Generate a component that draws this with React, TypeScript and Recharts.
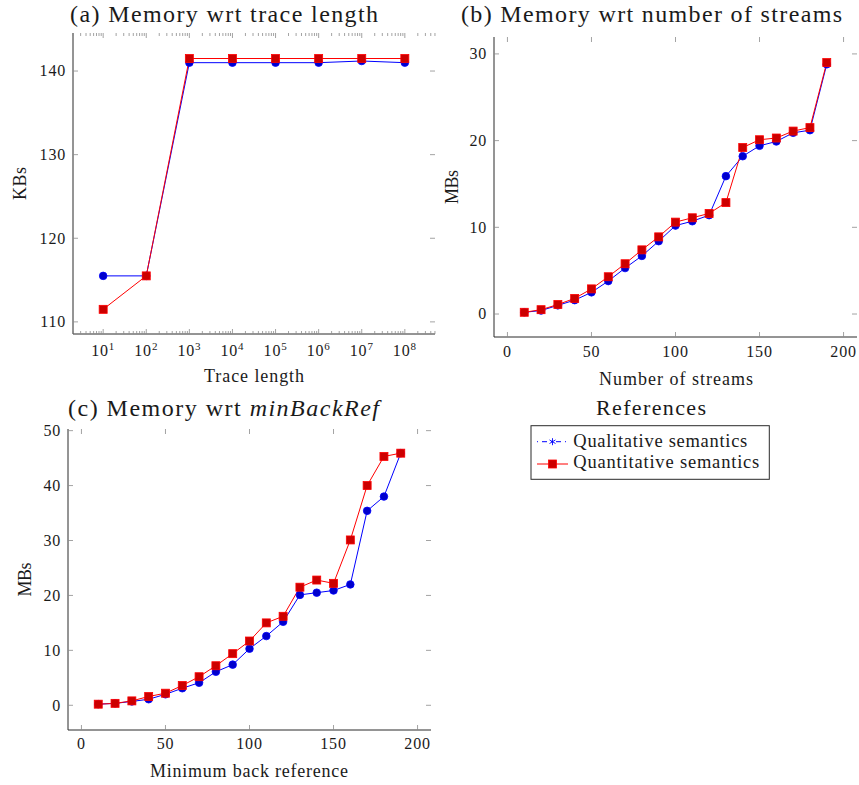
import React from 'react';
import { LineChart, Line, XAxis, YAxis } from 'recharts';

// values
const traceLengths = [1e1, 1e2, 1e3, 1e4, 1e5, 1e6, 1e7, 1e8];
const traceQualitative = [115.5, 115.5, 141.0, 141.0, 141.0, 141.0, 141.2, 141.0];
const traceQuantitative = [111.5, 115.5, 141.5, 141.5, 141.5, 141.5, 141.5, 141.5];

const streamCounts = [10, 20, 30, 40, 50, 60, 70, 80, 90, 100, 110, 120, 130, 140, 150, 160, 170, 180, 190];
const streamsQualitative = [0.2, 0.4, 1.0, 1.6, 2.5, 3.8, 5.3, 6.7, 8.4, 10.2, 10.7, 11.4, 15.9, 18.2, 19.4, 19.9, 20.9, 21.2, 28.8];
const streamsQuantitative = [0.2, 0.5, 1.1, 1.8, 2.9, 4.3, 5.8, 7.4, 8.9, 10.6, 11.1, 11.6, 12.85, 19.2, 20.1, 20.3, 21.1, 21.5, 29.0];

const backRefs = [10, 20, 30, 40, 50, 60, 70, 80, 90, 100, 110, 120, 130, 140, 150, 160, 170, 180, 190];
const backRefQualitative = [0.2, 0.35, 0.7, 1.1, 2.0, 3.1, 4.1, 6.1, 7.4, 10.3, 12.6, 15.2, 20.1, 20.5, 20.9, 22.0, 35.4, 38.0, 45.9];
const backRefQuantitative = [0.2, 0.35, 0.8, 1.6, 2.2, 3.6, 5.2, 7.2, 9.4, 11.7, 15.0, 16.2, 21.5, 22.8, 22.2, 30.1, 40.0, 45.3, 45.9];

const traceXTicks = [1, 2, 3, 4, 5, 6, 7, 8];
const traceYTicks = [110, 120, 130, 140];
const linearXTicks = [0, 50, 100, 150, 200];
const streamsYTicks = [0, 10, 20, 30];
const backRefYTicks = [0, 10, 20, 30, 40, 50];

const SERIF: React.CSSProperties = { fontFamily: 'Liberation Serif' };
const TEXT = '#1a1a1a';
const AXIS = '#2a2a2a';
const TICK = '#8c8c8c';
const BLUE = '#0000ff';
const RED = '#ff0000';
const TICK_FONT = 16;

const toRows = (xs: number[], a: number[], b: number[]) =>
  xs.map((x, i) => ({ x, qual: a[i], quant: b[i] }));

// minor + major ticks of the log axis, only those inside the domain
const logTicks = (lo: number, hi: number) => {
  const out: number[] = [];
  for (let k = 0; k <= 9; k++) {
    for (let m = 1; m <= 9; m++) {
      const v = m * Math.pow(10, k);
      if (v >= lo && v <= hi) out.push(v);
    }
  }
  return out;
};

const isPow10 = (v: number) => {
  const l = Math.log10(v);
  return Math.abs(l - Math.round(l)) < 1e-9;
};

const circleDot = (p: any) =>
  p.cx == null ? <g key={p.index} /> : (
    <circle key={p.index} cx={p.cx} cy={p.cy} r={3.8} fill="#0000cc" stroke={BLUE} strokeWidth={0.8} />
  );

const squareDot = (p: any) =>
  p.cx == null ? <g key={p.index} /> : (
    <rect key={p.index} x={p.cx - 4} y={p.cy - 4} width={8} height={8} fill="#cc0000" stroke={RED} strokeWidth={0.8} />
  );

interface PanelProps {
  left: number;
  top: number;
  width: number;
  height: number;
  yAxisWidth: number;
  xAxisHeight: number;
  marginTop: number;
  marginRight: number;
  data: Array<{ x: number; qual: number; quant: number }>;
  xDomain: [number, number];
  yDomain: [number, number];
  xTicks: number[];
  yTicks: number[];
  logX?: boolean;
  labelOffset: number;
}

const Panel: React.FC<PanelProps> = (props) => {
  const {
    left, top, width, height, yAxisWidth, xAxisHeight, marginTop, marginRight,
    data, xDomain, yDomain, xTicks, yTicks, logX, labelOffset,
  } = props;
  const plotW = width - yAxisWidth - marginRight;
  const plotH = height - marginTop - xAxisHeight;

  const xTick = (t: any) => {
    const { x, y, payload } = t;
    const v = payload.value;
    const major = !logX || isPow10(v);
    const len = major ? 5 : 3;
    return (
      <g>
        <line x1={x} x2={x} y1={y} y2={y - len} stroke={TICK} strokeWidth={0.8} />
        <line x1={x} x2={x} y1={y - plotH} y2={y - plotH + len} stroke={TICK} strokeWidth={0.8} />
        {major && (
          logX ? (
            <text x={x} y={y + labelOffset} textAnchor="middle" style={SERIF} fontSize={TICK_FONT} fill={TEXT} letterSpacing={0.8}>
              <tspan>10</tspan>
              <tspan dy={-6} fontSize={11}>{Math.round(Math.log10(v))}</tspan>
            </text>
          ) : (
            <text x={x} y={y + labelOffset} textAnchor="middle" style={SERIF} fontSize={TICK_FONT} fill={TEXT} letterSpacing={0.8}>
              {v}
            </text>
          )
        )}
      </g>
    );
  };

  const yTick = (t: any) => {
    const { x, y, payload } = t;
    return (
      <g>
        <line x1={x} x2={x + 5} y1={y} y2={y} stroke={TICK} strokeWidth={0.8} />
        <line x1={x + plotW} x2={x + plotW - 5} y1={y} y2={y} stroke={TICK} strokeWidth={0.8} />
        <text x={x - 7} y={y} dy="0.34em" textAnchor="end" style={SERIF} fontSize={TICK_FONT} fill={TEXT} letterSpacing={0.8}>
          {payload.value}
        </text>
      </g>
    );
  };

  const ticksX = logX ? logTicks(xDomain[0], xDomain[1]) : xTicks;

  return (
    <div style={{ position: 'absolute', left, top, width, height }}>
      <LineChart
        width={width}
        height={height}
        data={data}
        margin={{ top: marginTop, right: marginRight, left: 0, bottom: 0 }}
      >
        <XAxis
          dataKey="x"
          type="number"
          scale={logX ? 'log' : 'linear'}
          domain={xDomain}
          allowDataOverflow
          ticks={ticksX}
          interval={0}
          tickSize={0}
          tickMargin={0}
          tickLine={false}
          tick={xTick}
          height={xAxisHeight}
          axisLine={{ stroke: AXIS, strokeWidth: 1 }}
        />
        <XAxis
          xAxisId="top"
          orientation="top"
          dataKey="x"
          type="number"
          scale={logX ? 'log' : 'linear'}
          domain={xDomain}
          allowDataOverflow
          height={0}
          tick={false}
          tickLine={false}
          axisLine={{ stroke: AXIS, strokeWidth: 1 }}
        />
        <YAxis
          type="number"
          domain={yDomain}
          allowDataOverflow
          ticks={yTicks}
          interval={0}
          tickSize={0}
          tickMargin={0}
          tickLine={false}
          tick={yTick}
          width={yAxisWidth}
          axisLine={{ stroke: AXIS, strokeWidth: 1 }}
        />
        <YAxis
          yAxisId="right"
          orientation="right"
          type="number"
          domain={yDomain}
          allowDataOverflow
          width={0}
          tick={false}
          tickLine={false}
          axisLine={{ stroke: AXIS, strokeWidth: 1 }}
        />
        <Line
          dataKey="qual"
          stroke={BLUE}
          strokeWidth={1}
          dot={circleDot}
          activeDot={false}
          isAnimationActive={false}
        />
        <Line
          dataKey="quant"
          stroke={RED}
          strokeWidth={1}
          dot={squareDot}
          activeDot={false}
          isAnimationActive={false}
        />
      </LineChart>
    </div>
  );
};

const App: React.FC = () => {
  const traceRows = toRows(traceLengths, traceQualitative, traceQuantitative);
  const streamRows = toRows(streamCounts, streamsQualitative, streamsQuantitative);
  const backRefRows = toRows(backRefs, backRefQualitative, backRefQuantitative);

  return (
    <div style={{ position: 'absolute', left: 0, top: 0, width: 859, height: 785, background: '#fff' }}>
      <Panel
        left={0} top={0} width={440} height={390}
        yAxisWidth={73} xAxisHeight={56} marginTop={33} marginRight={5}
        data={traceRows}
        xDomain={[Math.pow(10, 0.3), Math.pow(10, 8.7)]}
        yDomain={[108.55, 144.55]}
        xTicks={traceXTicks}
        yTicks={traceYTicks}
        logX
        labelOffset={22}
      />
      <Panel
        left={440} top={0} width={419} height={390}
        yAxisWidth={54} xAxisHeight={53} marginTop={37} marginRight={2}
        data={streamRows}
        xDomain={[-8, 208]}
        yDomain={[-2.65, 31.95]}
        xTicks={linearXTicks}
        yTicks={streamsYTicks}
        labelOffset={19.5}
      />
      <Panel
        left={0} top={390} width={440} height={395}
        yAxisWidth={68} xAxisHeight={55} marginTop={39} marginRight={9}
        data={backRefRows}
        xDomain={[-8, 208]}
        yDomain={[-4.5, 50.3]}
        xTicks={linearXTicks}
        yTicks={backRefYTicks}
        labelOffset={18.5}
      />

      <svg width={859} height={785} style={{ position: 'absolute', left: 0, top: 0, pointerEvents: 'none' }}>
        <g style={SERIF} fill={TEXT}>
          <text x={70} y={22} fontSize={24} textLength={308} lengthAdjust="spacing">(a) Memory wrt trace length</text>
          <text x={461} y={22} fontSize={24} textLength={381} lengthAdjust="spacing">(b) Memory wrt number of streams</text>
          <text x={68} y={416} fontSize={24} textLength={311} lengthAdjust="spacing">
            (c) Memory wrt <tspan fontStyle="italic">minBackRef</tspan>
          </text>

          <text x={204} y={382} fontSize={18} textLength={100} lengthAdjust="spacing">Trace length</text>
          <text x={599} y={385} fontSize={18} textLength={154} lengthAdjust="spacing">Number of streams</text>
          <text x={150} y={777} fontSize={18} textLength={198} lengthAdjust="spacing">Minimum back reference</text>

          <text transform="translate(25.5,200) rotate(-90)" fontSize={18} textLength={33} lengthAdjust="spacing">KBs</text>
          <text transform="translate(457.5,204) rotate(-90)" fontSize={18} textLength={34} lengthAdjust="spacing">MBs</text>
          <text transform="translate(30.5,596.5) rotate(-90)" fontSize={18} textLength={34} lengthAdjust="spacing">MBs</text>

          <text x={596} y={415} fontSize={22} textLength={110} lengthAdjust="spacing">References</text>
        </g>

        <rect x={531} y={425.7} width={238.3} height={53.6} fill="#fff" stroke={AXIS} strokeWidth={1} />
        <line x1={537} x2={568} y1={441.7} y2={441.7} stroke={BLUE} strokeWidth={1} strokeDasharray="1 4 5 4" />
        <g stroke={BLUE} strokeWidth={0.9}>
          <line x1={552.5} x2={552.5} y1={438.2} y2={445.2} />
          <line x1={549.5} x2={555.5} y1={439.9} y2={443.5} />
          <line x1={549.5} x2={555.5} y1={443.5} y2={439.9} />
        </g>
        <line x1={537} x2={568} y1={464} y2={464} stroke={RED} strokeWidth={1} />
        <rect x={548.5} y={460} width={8} height={8} fill="#cc0000" stroke={RED} strokeWidth={0.8} />
        <g style={SERIF} fill={TEXT} fontSize={18.5}>
          <text x={573.3} y={446.5} textLength={174} lengthAdjust="spacing">Qualitative semantics</text>
          <text x={573.3} y={468} textLength={186} lengthAdjust="spacing">Quantitative semantics</text>
        </g>
      </svg>
    </div>
  );
};

export default App;
